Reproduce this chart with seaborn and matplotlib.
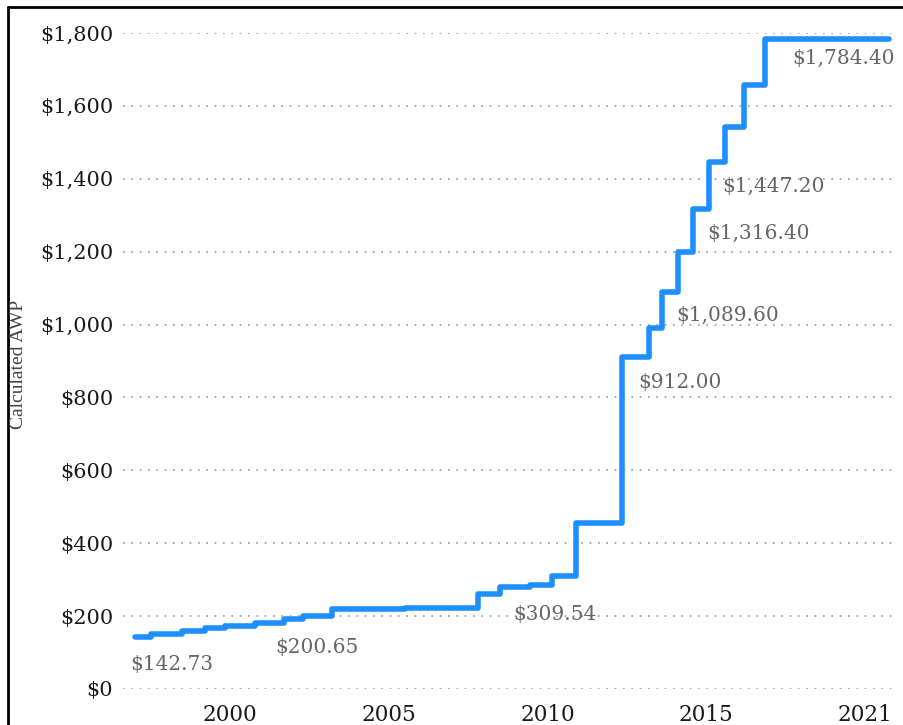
import matplotlib
matplotlib.use('Agg')
import matplotlib.pyplot as plt
from matplotlib.lines import Line2D
import seaborn as sns
import pandas as pd

# step data (year the price took effect, AWP in $)
years = [1997.0, 1997.5, 1998.5, 1999.2, 1999.85, 2000.8, 2001.7, 2002.3,
         2003.2, 2005.5, 2007.8, 2008.5, 2009.45, 2010.15, 2010.9, 2012.35,
         2013.2, 2013.6, 2014.1, 2014.57, 2015.07, 2015.6, 2016.17, 2016.85,
         2020.75]
awp = [142.73, 151, 159, 166.5, 174, 182, 191, 200.65,
       219.5, 222, 260, 281, 285, 309.54, 456, 912.00,
       990, 1089.60, 1200, 1316.40, 1447.20, 1541, 1657, 1784.40,
       1784.40]

# labelled prices and where their text sits
label_text = ['$142.73', '$200.65', '$309.54', '$912.00', '$1,089.60',
              '$1,316.40', '$1,447.20', '$1,784.40']
label_x = [1996.85, 2001.42, 2008.91, 2012.85, 2014.05, 2015.02, 2015.5, 2017.7]
label_y = [66, 115, 203, 840, 1026, 1251, 1378, 1729]

yticks = [0, 200, 400, 600, 800, 1000, 1200, 1400, 1600, 1800]
xtick_pos = [2000, 2005, 2010, 2015, 2020]
xtick_labels = ['2000', '2005', '2010', '2015', '2021']

df = pd.DataFrame({'year': years, 'awp': awp})

sns.set_theme(style='white')
plt.rcParams['font.family'] = ['DejaVu Serif']

fig = plt.figure(figsize=(9.04, 7.25), dpi=100)
ax = fig.add_axes([0.136, 0.0497, 0.852, 0.9048])

sns.lineplot(data=df, x='year', y='awp', drawstyle='steps-post',
             color='#1E8FFF', linewidth=4, ax=ax, clip_on=False)

for t, x, y in zip(label_text, label_x, label_y):
    ax.text(x, y, t, ha='left', va='center', fontsize=14.5, color='#666666')

ax.set_xlim(1996.63, 2020.88)
ax.set_ylim(0, 1800)
ax.set_yticks(yticks)
ax.set_yticklabels([f'${v:,}' for v in yticks])
ax.set_xticks(xtick_pos)
ax.set_xticklabels(xtick_labels)
ax.tick_params(axis='y', length=0, pad=7, labelsize=15, labelcolor='#1a1a1a')
ax.tick_params(axis='x', length=0, pad=11, labelsize=15.5, labelcolor='#1a1a1a')
for lbl in ax.get_xticklabels() + ax.get_yticklabels():
    lbl.set_fontweight('medium')

ax.yaxis.grid(True, color='#9a9a9a', linestyle=(0, (1, 4)), linewidth=1.2)
ax.xaxis.grid(False)
for s in ax.spines.values():
    s.set_visible(False)

ax.set_xlabel('')
ax.set_ylabel('')
fig.text(0.02, 0.498, 'Calculated AWP', rotation=90, ha='center', va='center',
         fontsize=14, color='#444444', family='Liberation Serif')

# frame edges from the screenshot
fig.add_artist(Line2D([8 / 904, 8 / 904], [0, 1 - 7 / 725], color='black', lw=2))
fig.add_artist(Line2D([8 / 904, 1], [1 - 7 / 725, 1 - 7 / 725], color='black', lw=2))

fig.savefig('out.png', dpi=100)
